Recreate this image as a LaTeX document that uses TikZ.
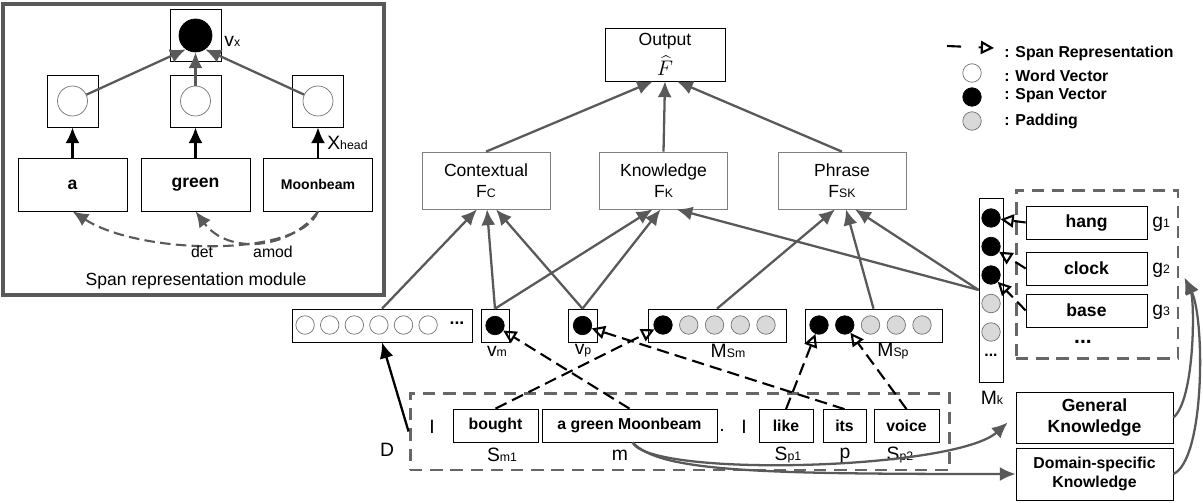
\documentclass[tikz,border=0pt]{standalone}
\usepackage{fontspec}
\setmainfont{Liberation Sans}
\usetikzlibrary{positioning,calc,arrows.meta}

\begin{document}
\begin{tikzpicture}[
x=0.02cm,
y=-0.02cm,
plain/.style={
  draw=none,
  fill=none,
  inner sep=0pt
  },
lbl/.style={
  plain,
  font=\fontsize{11}{12}\selectfont
  },
panelbox/.style={
  draw=black!65,
  line width=2.4pt,
  inner sep=0pt
  },
gframe/.style={
  draw=black!60,
  line width=1.7pt,
  dash pattern=on 7pt off 4.5pt,
  inner sep=0pt
  },
cell/.style={
  draw,
  inner sep=0pt,
  minimum width=1.02cm,
  minimum height=1.04cm
  },
word/.style={
  draw,
  inner sep=0pt,
  minimum width=2.18cm,
  minimum height=1.06cm,
  font=\bfseries
  },
token/.style={
  draw,
  inner sep=0pt,
  minimum height=0.66cm,
  font=\bfseries\small
  },
feat/.style={
  draw=black!50,
  inner sep=0pt,
  minimum width=2.56cm,
  minimum height=1.14cm,
  align=center
  },
vec/.style={
  draw,
  inner sep=0pt,
  minimum height=0.66cm
  },
wv/.style={
  circle,
  draw=black!55,
  fill=white,
  inner sep=0pt,
  minimum size=0.37cm
  },
sv/.style={
  circle,
  draw,
  fill=black,
  inner sep=0pt,
  minimum size=0.37cm
  },
pad/.style={
  circle,
  draw=black!55,
  fill=black!15,
  inner sep=0pt,
  minimum size=0.37cm
  },
flow/.style={
  draw=black!65,
  line width=1.3pt,
  -{Latex[length=9pt,width=8pt]}
  },
feed/.style={
  draw,
  line width=1.3pt,
  -{Latex[length=9pt,width=8pt]}
  },
dep/.style={
  draw=black!65,
  line width=1.2pt,
  dash pattern=on 6pt off 3pt,
  -{Latex[length=9pt,width=8pt]}
  },
span/.style={
  draw,
  line width=1.2pt,
  dash pattern=on 7pt off 3.5pt,
  -{Triangle[open,length=7.5pt,width=7.5pt]}
  }
]
\useasboundingbox (0,0) rectangle (1203,503);

\node[panelbox, minimum width=7.62cm, minimum height=5.82cm] (panel) at (193.5,149.5) {};
\node[cell] (vxbox) at (195.5,35.5) {};
\node[sv, minimum size=0.66cm] (vxc) at (vxbox) {};
\node[lbl, anchor=west] at (224,41) {v{\scriptsize x}};
\foreach \n/\x in {a/72.5, g/195.5, m/318}
{\node[cell] (c\n) at (\x,101) {};
 \node[wv, minimum size=0.6cm] (o\n) at (c\n) {};
}
\node[word] (wa) at (72.5,184.5) {a};
\node[word, font=\bfseries\normalsize] (wg) at (195.5,184.5) {green};
\node[word, font=\bfseries\footnotesize] (wm) at (318,184.5) {Moonbeam};
\foreach \n in {a,g,m}
  \draw[feed] (w\n) -- (c\n);
\node[lbl, anchor=west] at (327,143) {X{\scriptsize head}};
\draw[flow] (oa) -- (vxc.235);
\draw[flow] (og) -- (vxc.south);
\draw[flow] (om) -- (vxc.305);
\draw[dep] (wm.south) .. controls (300,258) and (140,255) .. (wa.south);
\draw[dep] (wm.south) .. controls (290,250) and (228,255) .. (wg.south);
\node[plain, font=\small] at (202,252) {det};
\node[plain, font=\small] at (273,252) {amod};
\node[plain] at (196,281) {Span representation module};

\node[draw, inner sep=0pt, minimum width=2.4cm, minimum height=1.06cm, align=center] (out) at (665,54.5) {Output\\[3pt]{\large$\widehat{F}$}};
\node[feat] (ctx) at (486,180.5) {Contextual\\F{\scriptsize C}};
\node[feat] (know) at (663.5,180.5) {Knowledge\\F{\scriptsize K}};
\node[feat] (phr) at (842,180.5) {Phrase\\F{\scriptsize SK}};

\node[vec, minimum width=3.6cm] (wvec) at (382,325.5) {};
\node[vec, minimum width=0.56cm] (vm) at (495,325.5) {};
\node[vec, minimum width=0.58cm] (vp) at (582.5,325.5) {};
\node[vec, minimum width=2.76cm] (msm) at (717,325.5) {};
\node[vec, minimum width=2.74cm] (msp) at (873.5,325.5) {};
\node[vec, minimum width=0.48cm, minimum height=3.68cm] (mk) at (991,290) {};

\foreach \i in {1,...,6}
  \node[wv] (wv\i) at ({280.5+24.6*\i},325) {};
\node[plain, font=\bfseries] at (457,323) {...};
\node[sv] (vmc) at (vm) {};
\node[sv] (vpc) at (vp) {};
\foreach \i in {1,...,5}
{\ifnum\i<2 \node[sv] (msm\i) at ({663+25.75*(\i-1)},325) {};
 \else \node[pad] (msm\i) at ({663+25.75*(\i-1)},325) {}; \fi
 \ifnum\i<3 \node[sv] (msp\i) at ({819+25.75*(\i-1)},325) {};
 \else \node[pad] (msp\i) at ({819+25.75*(\i-1)},325) {}; \fi
 \ifnum\i<4 \node[sv] (mk\i) at (991,{218+28.5*(\i-1)}) {};
 \else \node[pad] (mk\i) at (991,{218+28.5*(\i-1)}) {}; \fi
}
\node[plain, font=\bfseries\small] at (991,355) {...};
\node[lbl] at (497,351) {v{\scriptsize m}};
\node[lbl] at (583,351) {v{\scriptsize p}};
\node[lbl] at (728,351) {M{\scriptsize Sm}};
\node[lbl] at (893,351) {M{\scriptsize Sp}};
\node[lbl] at (992,398) {M{\scriptsize k}};

\node[gframe, minimum width=3.24cm, minimum height=3.38cm] (gbox) at (1097,274.5) {};
\node[token, minimum width=2.42cm, font=\bfseries] (hang) at (1086.5,222.5) {hang};
\node[token, minimum width=2.42cm, font=\bfseries] (clock) at (1086.5,268.5) {clock};
\node[token, minimum width=2.42cm, font=\bfseries] (base) at (1086.5,310.5) {base};
\node[lbl, anchor=west] at (1152,224) {g{\scriptsize 1}};
\node[lbl, anchor=west] at (1152,270) {g{\scriptsize 2}};
\node[lbl, anchor=west] at (1152,312) {g{\scriptsize 3}};
\node[plain, font=\bfseries\large] at (1083,342) {...};

\node[gframe, minimum width=10.8cm, minimum height=1.54cm] (sent) at (680,431.5) {};
\node[token, minimum width=1.7cm] (bought) at (495.5,425.5) {bought};
\node[token, minimum width=3.5cm] (agm) at (629.5,425.5) {a green Moonbeam};
\node[token, minimum width=1.08cm] (like) at (786,426) {like};
\node[token, minimum width=0.86cm] (its) at (844.5,426) {its};
\node[token, minimum width=1.3cm] (voice) at (906.5,426) {voice};
\node[lbl] at (432,427) {I};
\node[lbl] at (722,430) {.};
\node[lbl] at (744,427) {I};
\node[lbl] at (502,455) {S{\scriptsize m1}};
\node[lbl] at (620,455) {m};
\node[lbl] at (788,455) {S{\scriptsize p1}};
\node[lbl] at (845,455) {p};
\node[lbl] at (900,455) {S{\scriptsize p2}};
\node[lbl] at (387,450) {D};

\node[draw, inner sep=0pt, minimum width=3.14cm, minimum height=1.02cm, align=center, font=\bfseries] (gk) at (1094.5,417.5) {General\\Knowledge};
\node[draw, inner sep=0pt, minimum width=3.14cm, minimum height=1.04cm, align=center, font=\bfseries\small] (dk) at (1094.5,474) {Domain-specific\\Knowledge};

\node[wv] (lgw) at (972,73) {};
\node[sv] (lgs) at (972,97) {};
\node[pad] (lgp) at (972,121) {};
\coordinate (lg1) at (947,46);
\coordinate (lg2) at (994,48);
\draw[span, dash pattern=on 8pt off 10pt] (lg1) -- (lg2);
\node[plain, anchor=west, font=\bfseries\small] at (1004,53) {: Span Representation};
\node[plain, anchor=west, font=\bfseries\small] at (1004,76) {: Word Vector};
\node[plain, anchor=west, font=\bfseries\small] at (1004,96) {: Span Vector};
\node[plain, anchor=west, font=\bfseries\small] at (1004,121) {: Padding};

\foreach \a/\b/\d in {wvec.north/ctx/-9, vm.north/ctx/1, vp.north/ctx/10,
                     vm.north/know/-11, vp.north/know/-3, mk.west/know/13,
                     msm.north/phr/-7, msp.north/phr/4, mk.west/phr/13,
                     ctx.north/out/-12, know.north/out/0, phr.north/out/12}
  \draw[flow] (\a) -- ($(\b.south)+(\d,0)$);

\foreach \a/\b in {agm/vmc, bought/msm1, its/vpc, like/msp1, voice/msp2}
  \draw[span] (\a.north) -- (\b);
\draw[span] (hang.west) -- (mk1);
\draw[span] (clock.west) -- (mk2);
\draw[span] (base.west) -- (mk3);

\draw[feed] (sent.west) -- (wvec.south);
\draw[flow] ($(agm.south)+(3,0)$) .. controls (650,478) and (955,470) .. ($(gk.west)+(-8,5)$);
\draw[flow] ($(agm.south)+(3,0)$) .. controls (660,472) and (760,474) .. (dk.west);
\draw[flow] (gk.east) .. controls (1195,400) and (1195,300) .. ($(gbox.east)+(5,3)$);
\draw[flow] (dk.east) .. controls (1205,460) and (1205,320) .. ($(gbox.east)+(6,4)$);
\end{tikzpicture}
\end{document}
